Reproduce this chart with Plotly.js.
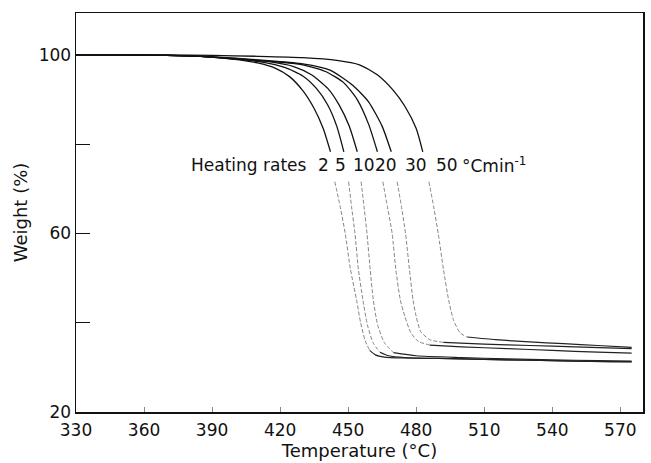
<!DOCTYPE html>
<html>
<head>
<meta charset="utf-8">
<script src="https://cdn.plot.ly/plotly-3.0.1.min.js"></script>
<style>html,body{margin:0;padding:0;background:#fff;}#chart{width:651px;height:463px;}</style>
</head>
<body>
<div id="chart"></div>
<script>
// Heating rates (°C/min)
const rates = ['2', '5', '10', '20', '30', '50'];

// Upper (solid) part of each TGA curve, above the label
const upperT = [
  [330, 350, 370, 385, 400, 410, 418, 424, 430, 435, 439, 442.2],
  [330, 350, 370, 385, 400, 412, 422, 430, 436, 441, 445, 448.1],
  [330, 350, 370, 385, 400, 415, 426, 434, 441, 446, 450.5, 454.0],
  [330, 350, 370, 385, 400, 415, 430, 440, 448, 454, 459, 462.9],
  [330, 350, 370, 385, 400, 415, 430, 442, 452, 459, 465, 469.0],
  [330, 350, 370, 390, 410, 430, 445, 455, 463, 470, 475, 480, 482.9]
];
const upperW = [
  [100, 100, 99.9, 99.7, 99.0, 98.2, 97.0, 95.2, 92.0, 88.0, 83.5, 78.3],
  [100, 100, 99.9, 99.7, 99.1, 98.4, 97.2, 95.3, 92.5, 88.8, 84.0, 78.3],
  [100, 100, 99.9, 99.7, 99.1, 98.5, 97.4, 95.5, 92.5, 88.8, 84.0, 78.3],
  [100, 100, 99.9, 99.7, 99.2, 98.6, 97.8, 96.3, 93.8, 90.0, 84.5, 78.3],
  [100, 100, 99.9, 99.7, 99.3, 98.7, 98.0, 96.6, 93.2, 89.5, 84.0, 78.3],
  [100, 100, 100, 99.9, 99.7, 99.4, 98.8, 97.8, 95.5, 92.0, 88.5, 83.5, 78.3]
];

// Steep drop (faint, broken) below the label
const dropT = [
  [444.1, 446.5, 448.7, 451.0, 453.7, 455.5, 457.5, 459.5],
  [450.2, 451.5, 453.0, 454.5, 456.5, 458.5, 461.0, 464.0],
  [455.7, 457.0, 458.3, 459.7, 461.1, 463.0, 466.0, 470.0],
  [465.3, 467.3, 469.4, 471.0, 473.0, 475.0, 477.7, 481.0, 486.0],
  [471.6, 473.5, 475.3, 477.0, 478.6, 480.0, 482.0, 486.0, 492.0],
  [485.6, 487.7, 489.7, 492.0, 494.3, 496.5, 499.4, 502.5]
];
const dropW = [
  [71.6, 66, 60, 52, 45.1, 40, 36, 33.8],
  [71.6, 66, 60, 52, 45.1, 39.5, 35.5, 33.4],
  [71.6, 66, 60, 52, 45.1, 39.5, 35.5, 33.3],
  [71.6, 66, 60, 52, 45.1, 41.4, 37.7, 35.8, 35.0],
  [71.6, 66, 60, 52, 45.1, 41.4, 38.0, 36.2, 35.6],
  [71.6, 66, 60, 52, 45.1, 40.5, 37.7, 36.8]
];

// Residue plateau
const tailT = [
  [459.5, 462, 466, 475, 490, 510, 530, 550, 565, 575],
  [464.0, 468, 475, 490, 510, 530, 550, 565, 575],
  [470.0, 480, 500, 520, 540, 560, 575],
  [486.0, 500, 520, 540, 560, 575],
  [492.0, 510, 530, 550, 575],
  [502.5, 515, 530, 545, 560, 575]
];
const tailW = [
  [33.8, 32.8, 32.3, 32.1, 32.0, 31.8, 31.6, 31.4, 31.3, 31.3],
  [33.4, 32.6, 32.2, 32.0, 31.8, 31.6, 31.4, 31.3, 31.2],
  [33.3, 32.6, 32.2, 31.9, 31.7, 31.5, 31.4],
  [35.0, 34.6, 34.2, 33.8, 33.4, 33.2],
  [35.6, 35.2, 34.9, 34.6, 34.2],
  [36.8, 36.2, 35.7, 35.3, 34.9, 34.5]
];

// Label positions
const rateLabelT = [439.3, 446.7, 456.8, 466.8, 479.7, 493.7];
const labelW = 75.4;
const headText = 'Heating rates';
const headT = 379.8;
const unitText = '°Cmin<sup>-1</sup>';
const unitT = 499.3;

const xTicks = [330, 360, 390, 420, 450, 480, 510, 540, 570];
const yTicks = [20, 60, 100];
const yMinorTicks = [40, 80];

const FONT = 'DejaVu Sans, Liberation Sans, sans-serif';
const traces = [];
for (let i = 0; i < rates.length; i++) {
  traces.push({x: upperT[i], y: upperW[i], mode: 'lines', line: {color: '#111', width: 1.3, shape: 'spline', smoothing: 0.6}, hoverinfo: 'skip', showlegend: false});
  traces.push({x: dropT[i], y: dropW[i], mode: 'lines', line: {color: '#777', width: 0.9, dash: '4px,2px', shape: 'spline', smoothing: 0.6}, hoverinfo: 'skip', showlegend: false});
  traces.push({x: tailT[i], y: tailW[i], mode: 'lines', line: {color: '#222', width: 1.2, shape: 'spline', smoothing: 0.6}, hoverinfo: 'skip', showlegend: false});
}

const annotations = [];
const AF = {family: FONT, size: 17, color: '#111'};
annotations.push({x: headT, y: labelW, text: headText, showarrow: false, xanchor: 'left', yanchor: 'middle', font: AF});
for (let i = 0; i < rates.length; i++) {
  annotations.push({x: rateLabelT[i], y: labelW, text: rates[i], showarrow: false, xanchor: 'center', yanchor: 'middle', font: AF});
}
annotations.push({x: unitT, y: labelW, text: unitText, showarrow: false, xanchor: 'left', yanchor: 'middle', font: AF});

const layout = {
  width: 651, height: 463,
  margin: {l: 76, r: 8, t: 13, b: 51},
  paper_bgcolor: '#fff', plot_bgcolor: '#fff',
  showlegend: false,
  font: {family: FONT, color: '#111'},
  xaxis: {
    range: [330, 580], tickvals: xTicks, ticktext: xTicks.map(String),
    ticks: 'inside', ticklen: 5, tickwidth: 1, tickcolor: '#888',
    ticklabelstandoff: 2,
    showline: true, linecolor: '#111', linewidth: 1.5, mirror: true,
    showgrid: false, zeroline: false,
    tickfont: {family: FONT, size: 17, color: '#111'},
    title: {text: 'Temperature (°C)', font: {family: FONT, size: 18, color: '#111'}, standoff: 4}
  },
  yaxis: {
    range: [20, 109.4], tickvals: yTicks, ticktext: yTicks.map(String),
    ticks: 'inside', ticklen: 14, tickwidth: 1, tickcolor: '#111',
    minor: {tickmode: 'array', tickvals: yMinorTicks, ticks: 'inside', ticklen: 14, tickwidth: 1, tickcolor: '#111', showgrid: false},
    showline: true, linecolor: '#111', linewidth: 1.5, mirror: true,
    showgrid: false, zeroline: false,
    tickfont: {family: FONT, size: 17, color: '#111'},
    title: {text: 'Weight (%)', font: {family: FONT, size: 18, color: '#111'}, standoff: 6}
  },
  annotations: annotations
};

Plotly.newPlot('chart', traces, layout, {staticPlot: true, displayModeBar: false});
</script>
</body>
</html>
